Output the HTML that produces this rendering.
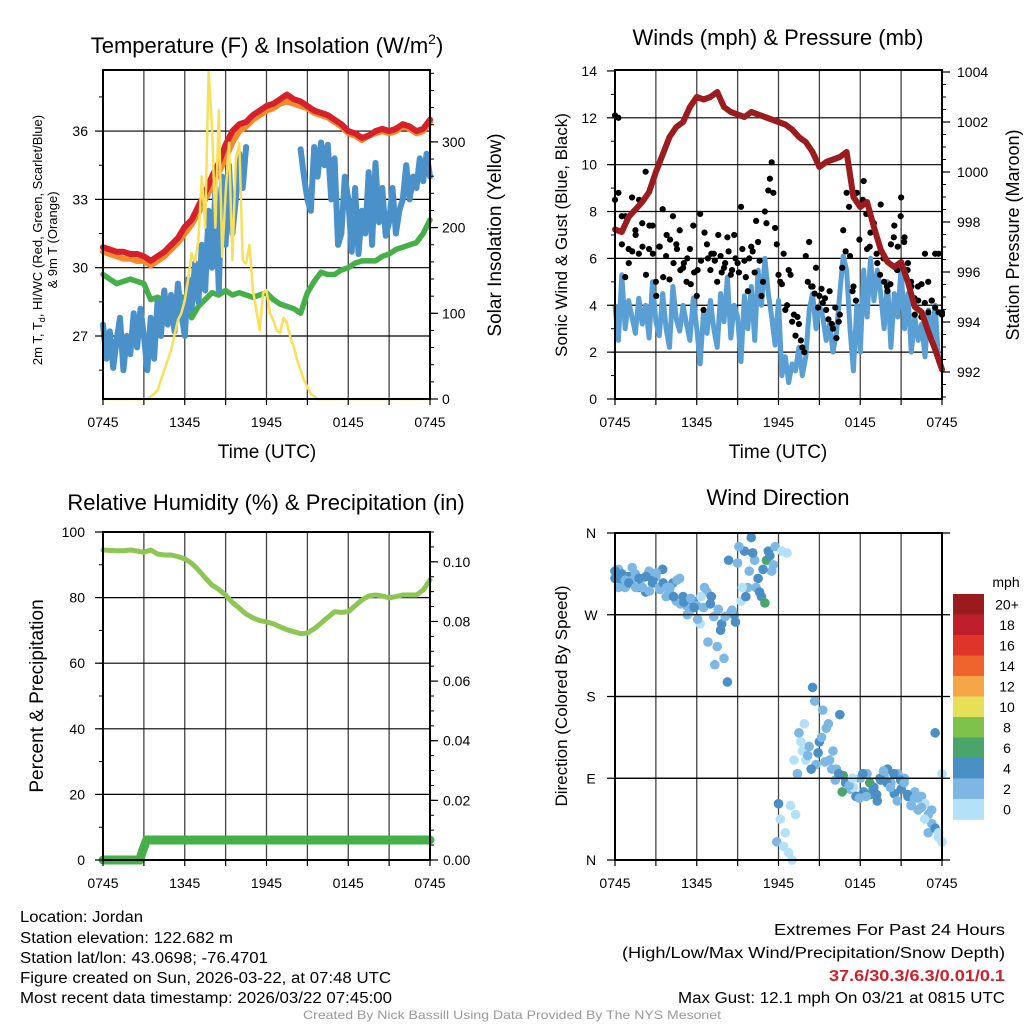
<!DOCTYPE html>
<html><head><meta charset="utf-8"><title>Mesonet Meteogram</title>
<style>
html,body{margin:0;padding:0;background:#fff;}
svg{display:block;font-family:"Liberation Sans",Arial,sans-serif;}
</style></head>
<body>
<svg id="chart" xmlns="http://www.w3.org/2000/svg" width="1024" height="1024" viewBox="0 0 1024 1024">
<rect x="0" y="0" width="1024" height="1024" fill="#fff"/>
<g id="layer"></g>
<g id="texts">
<text x="267" y="53" font-size="22" text-anchor="middle">Temperature (F) &amp; Insolation (W/m<tspan font-size="14" dy="-9">2</tspan><tspan dy="9">)</tspan></text>
<text x="267" y="458" font-size="19" text-anchor="middle">Time (UTC)</text>
<text transform="translate(42,240) rotate(-90)" font-size="13" text-anchor="middle">2m T, T<tspan font-size="9" dy="3">d</tspan><tspan dy="-3">, HI/WC (Red, Green, Scarlet/Blue)</tspan></text>
<text transform="translate(57,240) rotate(-90)" font-size="13" text-anchor="middle">&amp; 9m T (Orange)</text>
<text transform="translate(501,235) rotate(-90)" font-size="19" text-anchor="middle">Solar Insolation (Yellow)</text>

<text x="778" y="45" font-size="22" text-anchor="middle">Winds (mph) &amp; Pressure (mb)</text>
<text x="778" y="458" font-size="19" text-anchor="middle">Time (UTC)</text>
<text transform="translate(567,235) rotate(-90)" font-size="17" text-anchor="middle">Sonic Wind &amp; Gust (Blue, Black)</text>
<text transform="translate(1019,235) rotate(-90)" font-size="18" text-anchor="middle">Station Pressure (Maroon)</text>

<text x="266" y="510" font-size="22" text-anchor="middle">Relative Humidity (%) &amp; Precipitation (in)</text>
<text transform="translate(43,696) rotate(-90)" font-size="19" text-anchor="middle">Percent &amp; Precipitation</text>

<text x="778" y="505" font-size="22" text-anchor="middle">Wind Direction</text>
<text transform="translate(567,696) rotate(-90)" font-size="17" text-anchor="middle">Direction (Colored By Speed)</text>
<text x="1006" y="587" font-size="14" text-anchor="middle">mph</text>

<g font-size="15.5">
<text x="20" y="922" textLength="123" lengthAdjust="spacingAndGlyphs">Location: Jordan</text>
<text x="20" y="943" textLength="213" lengthAdjust="spacingAndGlyphs">Station elevation: 122.682 m</text>
<text x="20" y="963" textLength="248" lengthAdjust="spacingAndGlyphs">Station lat/lon: 43.0698; -76.4701</text>
<text x="20" y="983" textLength="371" lengthAdjust="spacingAndGlyphs">Figure created on Sun, 2026-03-22, at 07:48 UTC</text>
<text x="20" y="1003" textLength="372" lengthAdjust="spacingAndGlyphs">Most recent data timestamp: 2026/03/22 07:45:00</text>
</g>
<g font-size="15.5">
<text x="774" y="935" textLength="231" lengthAdjust="spacingAndGlyphs">Extremes For Past 24 Hours</text>
<text x="622" y="958" textLength="383" lengthAdjust="spacingAndGlyphs">(High/Low/Max Wind/Precipitation/Snow Depth)</text>
<text x="829" y="981" fill="#d0202a" font-weight="bold" textLength="176" lengthAdjust="spacingAndGlyphs">37.6/30.3/6.3/0.01/0.1</text>
<text x="678" y="1003" textLength="327" lengthAdjust="spacingAndGlyphs">Max Gust: 12.1 mph On 03/21 at 0815 UTC</text>
</g>
<text x="303" y="1019" font-size="12" fill="#999" textLength="418" lengthAdjust="spacingAndGlyphs">Created By Nick Bassill Using Data Provided By The NYS Mesonet</text>
</g>
</svg>
<script>
// ---- data ----
const timeLabels = ["0745","1345","1945","0145","0745"];
const tempRed = [30.9,30.8,30.7,30.7,30.6,30.6,30.5,30.3,30.5,30.7,31.0,31.3,31.8,32.1,32.7,33.3,34.0,34.6,35.4,36.0,36.3,36.4,36.7,36.9,37.1,37.2,37.4,37.6,37.4,37.3,37.1,36.9,36.8,36.7,36.5,36.3,36.0,35.9,35.7,35.8,36.0,36.1,36.0,36.1,36.3,36.2,36.0,36.1,36.5];
const tempOrange = [30.7,30.6,30.5,30.4,30.4,30.3,30.3,30.1,30.3,30.5,30.8,31.1,31.5,31.9,32.4,33.0,33.6,34.2,34.8,35.5,36.0,36.2,36.5,36.7,36.9,37.0,37.2,37.3,37.2,37.1,37.0,36.8,36.7,36.6,36.4,36.2,35.9,35.8,35.6,35.8,35.9,36.0,35.9,36.0,36.2,36.1,35.9,36.0,36.4];
const dewGreen = [29.7,29.5,29.3,29.4,29.5,29.4,29.3,28.6,28.7,28.6,28.6,28.7,28.7,27.8,28.3,28.6,28.9,28.8,29.0,28.8,28.9,28.8,28.7,28.8,28.9,28.6,28.4,28.3,28.2,28.0,28.9,29.4,29.8,29.7,29.7,29.9,30.0,30.2,30.3,30.3,30.3,30.5,30.6,30.8,30.9,31.0,31.1,31.5,32.1];
const windChillBlue = [27.5,26.0,27.2,25.6,26.8,27.8,25.5,27.0,26.2,28.0,26.5,28.2,27.0,25.5,27.8,26.0,28.5,27.0,29.0,27.5,28.8,27.2,29.3,28.0,27.0,29.5,28.2,30.2,28.5,31.0,29.0,32.5,30.0,33.5,29.0,34.0,31.0,34.5,31.5,33.0,35.0,33.5,35.3,null,35.6,null,null,null,null,null,null,null,null,null,null,null,null,null,35.2,34.0,33.0,32.5,35.3,34.0,35.5,34.5,35.4,33.0,34.8,31.0,31.5,34.0,33.0,30.7,33.5,30.6,32.5,31.5,34.2,31.0,34.6,32.0,33.5,31.4,32.0,33.5,31.5,32.5,33.0,34.5,33.0,34.0,33.5,34.8,33.8,35.0,34.0];
const insolation = [0,0,0,0,0,0,0,0,0,0,0,0,0,0,3,6,10,22,34,45,57,75,92,100,115,140,170,160,185,260,200,382,317,200,337,166,240,299,162,279,299,162,158,180,127,104,80,124,127,100,92,80,77,95,89,72,61,45,34,22,14,6,3,0,0,0,0,0,0,0,0,0,0,0,0,0,0,0,0,0,0,0,0,0,0,0,0,0,0,0,0,0,0,0,0,0,0];
const pressure = [997.7,997.6,998.2,998.5,998.8,999.2,1000.0,1000.7,1001.4,1001.8,1002.0,1002.6,1003.0,1002.9,1003.0,1003.2,1002.6,1002.4,1002.3,1002.2,1002.4,1002.3,1002.2,1002.1,1002.0,1001.9,1001.7,1001.4,1001.2,1000.8,1000.2,1000.4,1000.5,1000.6,1000.8,999.0,998.6,998.8,997.8,996.9,996.4,996.2,996.4,995.6,994.6,994.4,993.6,992.9,992.1];
const windSpeed = [4.0,2.5,5.3,3.0,4.2,3.5,2.8,4.3,3.2,4.0,2.6,5.0,3.3,2.7,4.5,3.0,2.2,4.8,3.4,2.9,4.0,3.2,2.5,4.3,3.0,1.5,3.8,2.8,4.2,3.0,2.2,4.5,3.3,5.2,2.6,4.0,3.5,1.6,4.4,3.0,4.8,2.5,5.5,4.0,6.0,4.5,3.5,2.3,4.2,1.0,1.8,0.7,1.5,1.2,2.2,1.0,1.8,3.8,4.5,3.0,4.0,3.5,2.5,3.2,2.0,2.8,4.5,6.1,5.5,3.0,1.2,4.0,2.0,5.5,3.5,6.0,4.2,5.5,4.5,3.0,5.0,2.2,4.5,3.5,5.6,3.0,4.5,2.0,3.5,2.5,3.2,1.8,3.8,2.5,4.0,1.6,1.3];
const gustA = [8.5,12.0,7.8,5.2,6.4,8.6,7.2,6.2,7.5,9.7,6.4,7.4,5.0,6.5,8.1,6.1,5.1,7.8,6.6,7.2,5.6,5.0,6.4,7.4,4.4,7.9,3.8,6.6,5.5,6.2,5.0,6.1,5.6,6.9,5.3,7.0,5.8,8.2,5.9,4.6,6.5,5.4,6.7,4.4,8.0,8.9,10.1,7.3,5.3,4.9,3.8,5.5,3.3,2.7,3.2,2.2,6.1,6.7,4.8,5.6,4.4,4.1,3.8,4.6,3.0,2.6,3.6,7.2,8.8,6.1,4.8,8.8,8.3,9.3,6.4,7.1,7.5,5.8,8.3,5.0,4.6,6.6,7.4,6.5,8.6,6.9,5.8,4.8,3.6,4.2,4.9,6.2,3.7,4.2,6.2,3.7,3.6];
const gustB = [12.1,8.8,6.6,7.8,5.8,6.3,7.0,8.5,6.5,5.3,7.4,6.2,4.4,6.5,5.2,7.0,6.8,5.8,6.4,5.5,5.8,6.0,4.9,5.4,5.5,5.9,7.1,6.0,6.2,5.9,7.0,5.4,5.8,6.3,5.5,6.0,5.4,6.4,5.2,6.0,6.3,7.6,5.9,5.0,7.5,9.4,8.8,6.6,5.0,6.2,4.0,5.3,3.6,3.5,2.5,2.0,5.0,4.8,4.5,3.9,4.7,4.3,3.4,3.2,3.9,3.3,5.6,6.3,8.2,4.6,4.2,6.8,8.5,7.9,6.5,7.5,6.2,5.3,6.0,4.8,4.9,6.9,5.5,7.8,6.7,5.5,5.0,4.3,4.8,3.5,4.1,5.0,4.2,3.9,6.2,3.7];
const humidity = [94.5,94.4,94.3,94.3,94.5,94.2,93.8,94.5,93.3,93.0,93.0,92.5,91.8,90.5,88.4,86.0,83.8,82.5,80.8,78.5,76.8,75.0,73.8,73.0,72.6,72.0,71.1,70.2,69.6,69.0,69.2,70.5,72.2,74.0,75.7,75.5,75.7,77.5,79.3,80.5,80.8,80.5,79.9,80.3,80.8,80.8,80.8,82.3,85.4];
const precipHours = [0,2.7,2.9,3.2,24];
const precipValues = [0,0,0.003,0.0067,0.0067];
const dirA = [310,320,305,300,312,308,315,300,310,295,318,305,312,300,320,290,295,305,285,310,290,280,275,285,280,260,278,295,282,268,235,253,222,196,272,270,327,285,340,300,355,330,310,290,283,340,318,345,62,340,30,8,0,50,140,120,110,125,190,105,130,165,145,110,120,100,160,93,85,78,80,70,90,75,95,72,80,65,88,92,100,85,73,95,78,90,70,60,75,55,70,62,50,40,140,25,95];
const dirB = [318,300,315,308,305,322,300,310,300,312,296,308,316,298,305,300,300,290,308,282,284,270,288,278,265,290,300,240,290,215,276,260,268,330,275,262,345,300,290,318,338,300,295,320,330,335,325,20,45,15,338,60,110,95,130,150,115,100,175,118,135,108,150,100,88,95,75,85,82,90,70,68,95,70,85,78,72,90,98,85,80,95,65,88,85,72,60,68,68,58,45,30,55,35,30,20];
const speedBinLabels = ["20+","18","16","14","12","10","8","6","4","2","0"];
const speedBinColors = ["#9a1b1e","#be1f2b","#df3429","#ef632d","#f5a646","#e6df58","#7ec24b","#4aa56b","#4a8fc6","#7cb8e3","#b4e1f7"];
const dirLabels = ["N","W","S","E","N"];
const dirValues = [360,270,180,90,0];

// ---- helpers ----
const NS = "http://www.w3.org/2000/svg";
const layer = document.getElementById("layer");
function el(tag, attrs, parent) {
  const e = document.createElementNS(NS, tag);
  for (const k in attrs) e.setAttribute(k, attrs[k]);
  (parent || layer).appendChild(e);
  return e;
}
function group(name) {
  const g = document.createElementNS(NS, "g");
  
  
  layer.appendChild(g);
  return g;
}
function mkX(p) { return t => p.x0 + (t / 24) * (p.x1 - p.x0); }
function mkY(p, vmin, vmax) { return v => p.y1 - (v - vmin) / (vmax - vmin) * (p.y1 - p.y0); }
function tAt(i, n) { return i * 24 / (n - 1); }
function linePath(arr, xf, yf) {
  let d = "", pen = false;
  arr.forEach((v, i) => {
    if (v === null) { pen = false; return; }
    const x = xf(tAt(i, arr.length)), y = yf(v);
    d += (pen ? "L" : "M") + x.toFixed(1) + "," + y.toFixed(1);
    pen = true;
  });
  return d;
}
function drawFrame(p, name) {
  const g = group(name + "-grid");
  for (let h = 3; h < 24; h += 3) {
    const x = p.x0 + h / 24 * (p.x1 - p.x0);
    const ln = el("line", {x1: x, y1: p.y0, x2: x, y2: p.y1, stroke: "#444", "stroke-width": 1.3}, g);
    
    
  }
  return g;
}
function hGrid(p, yf, vals, g) {
  vals.forEach(v => {
    const y = yf(v);
    const ln = el("line", {x1: p.x0, y1: y, x2: p.x1, y2: y, stroke: "#000", "stroke-width": 1.2}, g);
    
    
  });
}
function border(p, name) {
  const r = el("rect", {x: p.x0, y: p.y0, width: p.x1 - p.x0, height: p.y1 - p.y0, fill: "none", stroke: "#000", "stroke-width": 2});
  
  
}
function xAxis(p, name) {
  const g = group(name + "-x-axis");
  const xf = mkX(p);
  for (let h = 0; h <= 24; h += 3) {
    el("line", {x1: xf(h), y1: p.y1, x2: xf(h), y2: p.y1 + 6, stroke: "#000", "stroke-width": 1.2}, g);
  }
  timeLabels.forEach((lab, i) => {
    const t = el("text", {x: xf(i * 6), y: p.y1 + 28, "font-size": 14, "text-anchor": "middle"}, g);
    t.textContent = lab;
    
    
  });
}
function yAxis(p, yf, majors, minors, labels, side, name, labelX) {
  const g = group(name);
  const x = side === "left" ? p.x0 : p.x1;
  const dir = side === "left" ? -1 : 1;
  minors.forEach(v => el("line", {x1: x, y1: yf(v), x2: x + dir * 4, y2: yf(v), stroke: "#000", "stroke-width": 1}, g));
  majors.forEach((v, i) => {
    el("line", {x1: x, y1: yf(v), x2: x + dir * 8, y2: yf(v), stroke: "#000", "stroke-width": 1.2}, g);
    const t = el("text", {x: labelX, y: yf(v) + 5, "font-size": 14, "text-anchor": side === "left" ? "end" : "start"}, g);
    t.textContent = labels[i];
    
    
  });
}
function range(a, b, s) { const r = []; for (let v = a; v <= b + 1e-9; v += s) r.push(+v.toFixed(4)); return r; }

// ---- Panel 1: temperature ----
const P1 = {x0: 103, x1: 430, y0: 70, y1: 399};
(function () {
  const xf = mkX(P1);
  const yT = v => 336 - (v - 27) * 22.77;
  const yI = mkY(P1, 0, 383.9);
  const g = drawFrame(P1, "temperature");
  hGrid(P1, yT, [27, 30, 33, 36], g);
  const gs = group("temperature-series");
  const add = (arr, yf, color, w, name) => {
    const p = el("path", {d: linePath(arr, xf, yf), fill: "none", stroke: color, "stroke-width": w, "stroke-linejoin": "round", "stroke-linecap": "round"}, gs);
    
    
  };
  add(dewGreen, yT, "#45b048", 5.5, "dewpoint-line");
  add(windChillBlue, yT, "#4b91c9", 6, "wind-chill-line");
  add(tempOrange, yT, "#f48a2c", 6, "temperature-9m-line");
  add(tempRed, yT, "#d7202a", 6, "temperature-2m-line");
  add(insolation, yI, "#f8e05a", 2.5, "insolation-line");
  border(P1, "temperature");
  yAxis(P1, yT, [27, 30, 33, 36], [25.5, 28.5, 31.5, 34.5, 37.5], ["27", "30", "33", "36"], "left", "temperature-y-axis", 88);
  yAxis(P1, yI, [0, 100, 200, 300], range(0, 380, 20), ["0", "100", "200", "300"], "right", "insolation-y-axis", 442);
  xAxis(P1, "temperature");
})();

// ---- Panel 2: wind ----
const P2 = {x0: 615, x1: 942, y0: 70, y1: 399};
(function () {
  const xf = mkX(P2);
  const yW = mkY(P2, 0, 14.04);
  const yP = v => 372 - (v - 992) * 25;
  const g = drawFrame(P2, "wind");
  hGrid(P2, yW, [2, 4, 6, 8, 10, 12], g);
  const gs = group("wind-series");
  const wl = el("path", {d: linePath(windSpeed, xf, yW), fill: "none", stroke: "#5a9fd4", "stroke-width": 5, "stroke-linejoin": "round"}, gs);
  
  
  [gustA, gustB].forEach(arr => arr.forEach((v, i) => {
    if (v === null) return;
    const c = el("circle", {cx: xf(tAt(i, arr.length)), cy: yW(v), r: 3.1, fill: "#000"}, gs);
    
    
  }));
  const pl = el("path", {d: linePath(pressure, xf, yP), fill: "none", stroke: "#9b1b1e", "stroke-width": 6, "stroke-linejoin": "round", "stroke-linecap": "round"}, gs);
  
  
  border(P2, "wind");
  yAxis(P2, yW, range(0, 14, 2), range(0, 14, 1), range(0, 14, 2).map(String), "left", "wind-y-axis", 597);
  yAxis(P2, yP, range(992, 1004, 2), range(991, 1004, 0.5), range(992, 1004, 2).map(String), "right", "pressure-y-axis", 957);
  xAxis(P2, "wind");
})();

// ---- Panel 3: humidity ----
const P3 = {x0: 103, x1: 430, y0: 532, y1: 860};
(function () {
  const xf = mkX(P3);
  const yH = mkY(P3, 0, 100);
  const yR = mkY(P3, 0, 0.11);
  const g = drawFrame(P3, "humidity");
  hGrid(P3, yH, [20, 40, 60, 80], g);
  const gs = group("humidity-series");
  let d = "";
  precipHours.forEach((h, i) => { d += (i ? "L" : "M") + xf(h).toFixed(1) + "," + yR(precipValues[i]).toFixed(1); });
  const pp = el("path", {d: d, fill: "none", stroke: "#45b048", "stroke-width": 9, "stroke-linejoin": "round", "stroke-linecap": "round"}, gs);
  
  
  const hl = el("path", {d: linePath(humidity, xf, yH), fill: "none", stroke: "#8dc653", "stroke-width": 5, "stroke-linejoin": "round", "stroke-linecap": "round"}, gs);
  
  
  border(P3, "humidity");
  yAxis(P3, yH, range(0, 100, 20), range(0, 100, 10), range(0, 100, 20).map(String), "left", "humidity-y-axis", 85);
  yAxis(P3, yR, range(0, 0.1, 0.02), range(0, 0.11, 0.005), ["0.00", "0.02", "0.04", "0.06", "0.08", "0.10"], "right", "precipitation-y-axis", 443);
  xAxis(P3, "humidity");
})();

// ---- Panel 4: direction ----
const P4 = {x0: 615, x1: 942, y0: 533, y1: 860};
function speedColor(s) {
  let bin = Math.min(10, Math.floor(s / 2));
  return speedBinColors[10 - bin];
}
(function () {
  const xf = mkX(P4);
  const yD = mkY(P4, 0, 360);
  const g = drawFrame(P4, "direction");
  hGrid(P4, yD, [90, 180, 270], g);
  const gs = group("direction-points");
  [dirA, dirB].forEach(arr => arr.forEach((v, i) => {
    if (v === null) return;
    const t = tAt(i, arr.length);
    const si = Math.round(t / 24 * (windSpeed.length - 1));
    const c = el("circle", {cx: xf(t), cy: yD(v), r: 4.8, fill: speedColor(windSpeed[si])}, gs);
    
    
  }));
  border(P4, "direction");
  const ga = group("direction-y-axis");
  dirValues.forEach((v, i) => {
    el("line", {x1: P4.x0 - 8, y1: yD(v), x2: P4.x1 + 8, y2: yD(v), stroke: "#000", "stroke-width": 1.2}, ga);
    const t = el("text", {x: 591, y: yD(v) + 5, "font-size": 14, "text-anchor": "middle"}, ga);
    t.textContent = dirLabels[i];
    
    
  });
  xAxis(P4, "direction");
  const gc = group("speed-colorbar");
  const top = 594, bh = 20.5;
  speedBinColors.forEach((c, i) => {
    const r = el("rect", {x: 953, y: top + i * bh, width: 31, height: bh + 0.3, fill: c}, gc);
    
    
    const t = el("text", {x: 1007, y: top + i * bh + bh / 2 + 5, "font-size": 14, "text-anchor": "middle"}, gc);
    t.textContent = speedBinLabels[i];
    
    
  });
})();
</script>
</body></html>
